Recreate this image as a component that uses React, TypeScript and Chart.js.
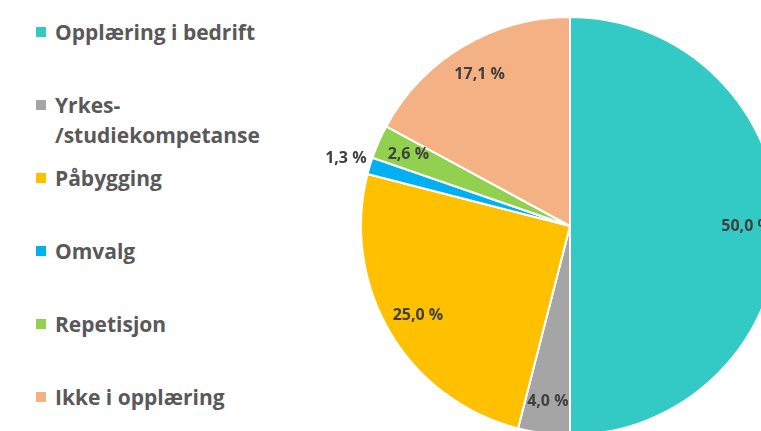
import React, { useEffect, useRef } from "react";
import { Chart, ArcElement, PieController } from "chart.js";

Chart.register(ArcElement, PieController);

const categories = [
  "Opplæring i bedrift",
  "Yrkes-\n/studiekompetanse",
  "Påbygging",
  "Omvalg",
  "Repetisjon",
  "Ikke i opplæring",
];
const values = [50.0, 4.0, 25.0, 1.3, 2.6, 17.1];
const colors = ["#33C9C5", "#A5A5A5", "#FFC000", "#00B0F0", "#92D050", "#F4B183"];

const fmt = (v: number) => v.toFixed(1).replace(".", ",") + " %";

const labelPlugin = {
  id: "sliceLabels",
  afterDatasetsDraw(chart: any) {
    const ctx = chart.ctx;
    const meta = chart.getDatasetMeta(0);
    ctx.save();
    ctx.font = "bold 16px 'Open Sans', sans-serif";
    ctx.fillStyle = "#404040";
    ctx.textAlign = "center";
    ctx.textBaseline = "middle";
    meta.data.forEach((arc: any, i: number) => {
      const { x, y, startAngle, endAngle, outerRadius } = arc.getProps(
        ["x", "y", "startAngle", "endAngle", "outerRadius"],
        true
      );
      const mid = (startAngle + endAngle) / 2;
      const v = values[i];
      const f = v < 2 ? 1.12 : 0.845;
      const r = outerRadius * f;
      ctx.fillText(fmt(v), x + Math.cos(mid) * r, y + Math.sin(mid) * r);
    });
    ctx.restore();
  },
};

export default function App() {
  const ref = useRef<HTMLCanvasElement | null>(null);
  useEffect(() => {
    if (!ref.current) return;
    const chart = new Chart(ref.current, {
      type: "pie",
      data: {
        labels: categories,
        datasets: [
          {
            data: values,
            backgroundColor: colors,
            borderColor: "#ffffff",
            borderWidth: 2,
          },
        ],
      },
      options: {
        responsive: false,
        animation: false,
        layout: { padding: { left: 60 } },
        plugins: {
          legend: { display: false },
          tooltip: { enabled: false },
        },
      },
      plugins: [labelPlugin],
    });
    return () => chart.destroy();
  }, []);

  return (
    <div
      style={{
        position: "fixed",
        left: 0,
        top: 0,
        width: 761,
        height: 431,
        overflow: "hidden",
        background: "#ffffff",
      }}
    >
      {categories.map((c, i) => (
        <div
          key={c}
          style={{
            position: "absolute",
            left: 36,
            top: 32 + i * 73 - 15,
            display: "flex",
            alignItems: "flex-start",
          }}
        >
          <div
            style={{
              width: 10,
              height: 10,
              background: colors[i],
              marginTop: 10,
              marginRight: 9,
              flex: "none",
            }}
          />
          <div
            style={{
              fontFamily: "'Open Sans', sans-serif",
              fontWeight: 700,
              fontSize: 21,
              lineHeight: "30px",
              color: "#595959",
              whiteSpace: "pre-line",
            }}
          >
            {c}
          </div>
        </div>
      ))}
      <div style={{ position: "absolute", left: 300, top: 16, width: 480, height: 420 }}>
        <canvas ref={ref} width={480} height={420} style={{ width: 480, height: 420 }} />
      </div>
    </div>
  );
}
